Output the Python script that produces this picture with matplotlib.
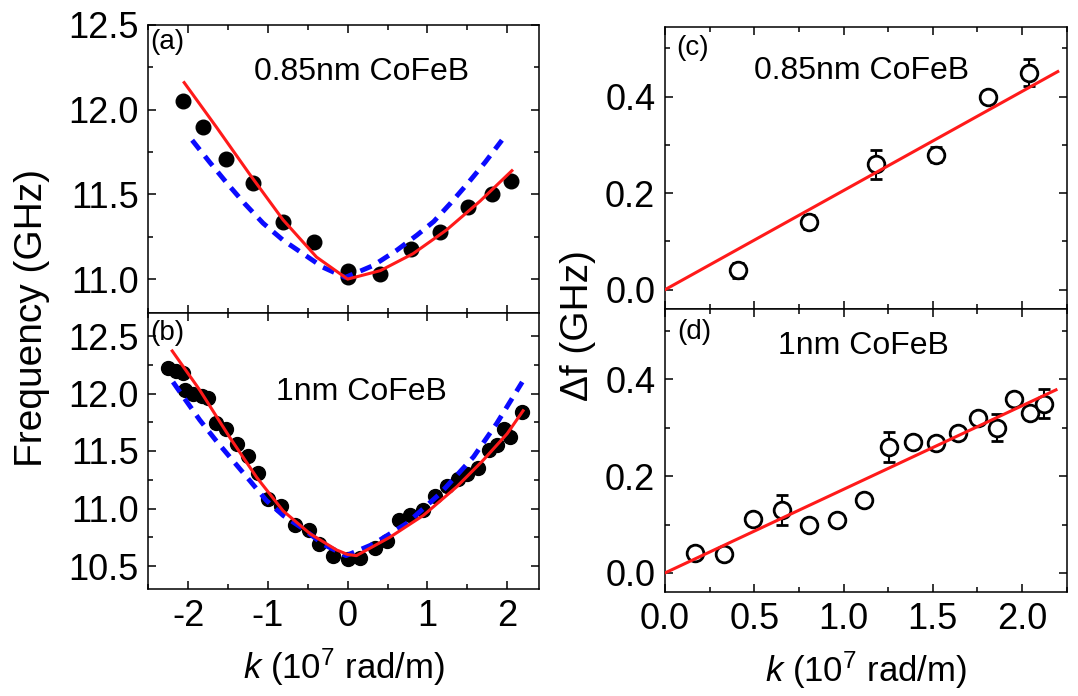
import matplotlib
matplotlib.use("Agg")
import matplotlib.pyplot as plt
from matplotlib.ticker import MultipleLocator, NullFormatter

plt.rcParams['font.family'] = ['Liberation Sans', 'DejaVu Sans']
plt.rcParams['mathtext.fontset'] = 'custom'
plt.rcParams['mathtext.rm'] = 'Liberation Sans'
plt.rcParams['mathtext.it'] = 'Liberation Sans:italic'

# (a) 0.85nm CoFeB: measured frequencies
a_k = [-2.065, -1.82, -1.53, -1.19, -0.81, -0.42, 0.0, 0.0, 0.41, 0.795, 1.16, 1.51, 1.81, 2.05]
a_f = [12.05, 11.90, 11.71, 11.57, 11.34, 11.22, 11.05, 11.01, 11.03, 11.175, 11.28, 11.425, 11.50, 11.58]
# (a) fit (red) and model (blue dashed)
a_fit_k = [-2.05, -1.65, -1.23, -0.81, -0.39, 0.0, 0.41, 0.82, 1.24, 1.66, 2.06]
a_fit_f = [12.16, 11.90, 11.62, 11.35, 11.13, 11.00, 11.05, 11.15, 11.29, 11.46, 11.64]
a_mod_k = [-1.95, -1.73, -1.52, -1.29, -1.06, -0.81, -0.56, -0.31, -0.03, 0.32, 0.615, 0.87, 1.08, 1.285, 1.515, 1.725, 1.935]
a_mod_f = [11.82, 11.69, 11.57, 11.445, 11.33, 11.23, 11.15, 11.07, 11.01, 11.08, 11.17, 11.26, 11.34, 11.445, 11.57, 11.69, 11.82]

# (b) 1nm CoFeB
b_k = [-2.25, -2.15, -2.06, -2.04, -1.94, -1.83, -1.75, -1.65, -1.52, -1.39, -1.25, -1.12, -1.0,
       -0.83, -0.66, -0.49, -0.36, -0.18, 0.0, 0.155, 0.34, 0.49, 0.64, 0.78, 0.95, 1.1, 1.24,
       1.39, 1.50, 1.64, 1.77, 1.87, 1.955, 2.04, 2.19]
b_f = [12.22, 12.20, 12.18, 12.03, 12.00, 11.98, 11.96, 11.74, 11.69, 11.56, 11.46, 11.31, 11.08,
       11.02, 10.86, 10.81, 10.69, 10.59, 10.56, 10.57, 10.66, 10.72, 10.90, 10.94, 10.99, 11.11, 11.20,
       11.26, 11.30, 11.35, 11.51, 11.55, 11.69, 11.62, 11.84]
b_fit_k = [-2.2, -1.855, -1.48, -1.14, -0.81, -0.47, -0.14, 0.0, 0.11, 0.53, 0.95, 1.37, 1.70, 2.0, 2.2]
b_fit_f = [12.37, 12.03, 11.62, 11.27, 10.98, 10.78, 10.64, 10.60, 10.59, 10.75, 10.94, 11.19, 11.42, 11.65, 11.85]
b_mod_k = [-2.19, -2.06, -1.855, -1.65, -1.48, -1.23, -1.02, -0.81, -0.56, -0.31, -0.02, 0.32, 0.74, 1.16, 1.58, 1.87, 2.19]
b_mod_f = [12.10, 11.97, 11.77, 11.59, 11.45, 11.245, 11.07, 10.94, 10.825, 10.69, 10.59, 10.69, 10.87, 11.13, 11.45, 11.74, 12.10]

# (c) frequency shift, 0.85nm
c_k = [0.41, 0.806, 1.18, 1.52, 1.81, 2.04]
c_df = [0.04, 0.14, 0.26, 0.28, 0.40, 0.45]
c_err = [0.015, 0.015, 0.03, 0.015, 0.012, 0.028]
c_fit_k = [0.0, 2.2]
c_fit_df = [0.0, 0.452]

# (d) frequency shift, 1nm
d_k = [0.168, 0.332, 0.495, 0.653, 0.808, 0.961, 1.114, 1.254, 1.387, 1.52, 1.642, 1.754, 1.861, 1.953, 2.047, 2.122]
d_df = [0.041, 0.04, 0.111, 0.13, 0.10, 0.11, 0.151, 0.26, 0.27, 0.268, 0.289, 0.32, 0.30, 0.359, 0.33, 0.349]
d_err = [0.01, 0.01, 0.01, 0.03, 0.01, 0.01, 0.012, 0.03, 0.012, 0.012, 0.01, 0.01, 0.028, 0.012, 0.012, 0.03]
d_fit_k = [0.0, 2.19]
d_fit_df = [0.0, 0.378]

W, H = 1078, 696
fig = plt.figure(figsize=(W / 100, H / 100), dpi=100)


def box(l, r, t, b):
    return [l / W, 1 - b / H, (r - l) / W, (b - t) / H]


ax_a = fig.add_axes(box(148.3, 539, 25, 313))
ax_b = fig.add_axes(box(148.3, 539, 313, 589))
ax_c = fig.add_axes(box(665, 1066.7, 26.7, 309))
ax_d = fig.add_axes(box(665, 1066.7, 309, 592.3))

TICK = 26
for ax in (ax_a, ax_b, ax_c, ax_d):
    ax.tick_params(which='both', direction='in', top=True, right=True, width=1.1,
                   labelsize=TICK, pad=7)
    ax.tick_params(which='major', length=6)
    ax.tick_params(which='minor', length=3.5)
    for s in ax.spines.values():
        s.set_linewidth(1.1)

BLUE = '#0a0aff'
RED = '#ff1a1a'

# left column
ax_a.plot(a_k, a_f, 'o', color='black', ms=10.5, zorder=2)
ax_a.plot(a_mod_k, a_mod_f, color=BLUE, lw=3.5, dashes=(2.5, 1.7), zorder=3)
ax_a.plot(a_fit_k, a_fit_f, color=RED, lw=2.2, zorder=4)
ax_a.set_ylim(10.8, 12.5)
ax_a.set_yticks([11.0, 11.5, 12.0, 12.5])

ax_b.plot(b_k, b_f, 'o', color='black', ms=10, zorder=2)
ax_b.plot(b_mod_k, b_mod_f, color=BLUE, lw=3.5, dashes=(2.5, 1.7), zorder=3)
ax_b.plot(b_fit_k, b_fit_f, color=RED, lw=2.2, zorder=4)
ax_b.set_ylim(10.3, 12.7)
ax_b.set_yticks([10.5, 11.0, 11.5, 12.0, 12.5])

for ax in (ax_a, ax_b):
    ax.set_xlim(-2.5, 2.4)
    ax.set_xticks([-2, -1, 0, 1, 2])
    ax.xaxis.set_minor_locator(MultipleLocator(0.5))
    ax.yaxis.set_minor_locator(MultipleLocator(0.25))
ax_a.xaxis.set_major_formatter(NullFormatter())
ax_b.set_xticklabels(['-2', '-1', '0', '1', '2'])

# right column
for ax, k, df, err, fk, fdf in ((ax_c, c_k, c_df, c_err, c_fit_k, c_fit_df),
                                (ax_d, d_k, d_df, d_err, d_fit_k, d_fit_df)):
    ax.errorbar(k, df, yerr=err, fmt='o', ms=12, mfc='white', mec='black', mew=2,
                ecolor='black', elinewidth=1.5, capsize=4, capthick=1.5, zorder=2)
    ax.plot(fk, fdf, color=RED, lw=2.2, zorder=4)
    ax.set_xlim(0, 2.25)
    ax.set_ylim(-0.04, 0.545)
    ax.set_xticks([0.0, 0.5, 1.0, 1.5, 2.0])
    ax.set_yticks([0.0, 0.2, 0.4])
    ax.xaxis.set_minor_locator(MultipleLocator(0.25))
    ax.yaxis.set_minor_locator(MultipleLocator(0.1))
ax_c.xaxis.set_major_formatter(NullFormatter())

# panel labels
LBL = 20
ANN = 23
ax_a.text(0.006, 0.985, '(a)', transform=ax_a.transAxes, fontsize=LBL, va='top')
ax_a.text(0.546, 0.838, '0.85nm CoFeB', transform=ax_a.transAxes, fontsize=ANN, ha='center', va='center')
ax_b.text(0.006, 0.975, '(b)', transform=ax_b.transAxes, fontsize=LBL, va='top')
ax_b.text(0.545, 0.715, '1nm CoFeB', transform=ax_b.transAxes, fontsize=ANN, ha='center', va='center')
ax_c.text(0.027, 0.97, '(c)', transform=ax_c.transAxes, fontsize=LBL, va='top')
ax_c.text(0.49, 0.844, '0.85nm CoFeB', transform=ax_c.transAxes, fontsize=ANN, ha='center', va='center')
ax_d.text(0.03, 0.965, '(d)', transform=ax_d.transAxes, fontsize=LBL, va='top')
ax_d.text(0.495, 0.868, '1nm CoFeB', transform=ax_d.transAxes, fontsize=ANN, ha='center', va='center')

ax_b.set_xlabel(r'$k$ (10$^7$ rad/m)', fontsize=25, labelpad=9)
ax_d.set_xlabel(r'$k$ (10$^7$ rad/m)', fontsize=25, labelpad=9)
fig.text(32 / W, 1 - 318 / H, 'Frequency (GHz)', rotation=90, fontsize=28, ha='center', va='center')
fig.text(578 / W, 1 - 326 / H, 'Δf (GHz)', rotation=90, fontsize=28, ha='center', va='center')

fig.savefig('out.png', dpi=100)
